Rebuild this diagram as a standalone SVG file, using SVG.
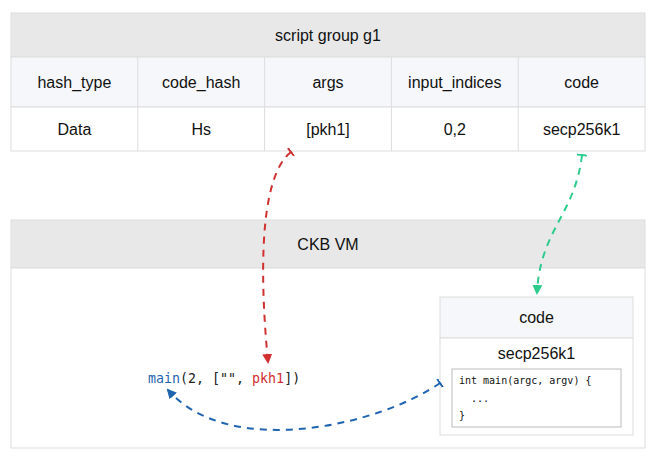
<svg xmlns="http://www.w3.org/2000/svg" width="660" height="463" viewBox="0 0 660 463">
<style>
.t{font-family:"Liberation Sans",Arial,sans-serif;font-size:16px;fill:#111;text-anchor:middle;dominant-baseline:central}
.m{font-family:"DejaVu Sans Mono","Liberation Mono",monospace;font-size:13.3px;dominant-baseline:central}
.c{font-family:"DejaVu Sans Mono","Liberation Mono",monospace;font-size:10px;fill:#111}
.b{stroke:#dddddd;stroke-width:1}
.e{fill:none;stroke-width:2;stroke-dasharray:7,6}
</style>
<defs>
<marker id="ar" markerWidth="10" markerHeight="10" refX="8" refY="5" orient="auto" markerUnits="userSpaceOnUse"><path d="M0,0 L10,5 L0,10 Z" fill="#d03030"/></marker>
<marker id="ag" markerWidth="10" markerHeight="10" refX="8" refY="5" orient="auto" markerUnits="userSpaceOnUse"><path d="M0,0 L10,5 L0,10 Z" fill="#2ecc8c"/></marker>
<marker id="ab" markerWidth="10" markerHeight="10" refX="8" refY="5" orient="auto" markerUnits="userSpaceOnUse"><path d="M0,0 L10,5 L0,10 Z" fill="#1f64b0"/></marker>
<marker id="tr" markerWidth="4" markerHeight="10" refX="1" refY="5" orient="auto" markerUnits="userSpaceOnUse"><path d="M1,0 L1,10" stroke="#d03030" stroke-width="2"/></marker>
<marker id="tg" markerWidth="4" markerHeight="10" refX="1" refY="5" orient="auto" markerUnits="userSpaceOnUse"><path d="M1,0 L1,10" stroke="#2ecc8c" stroke-width="2"/></marker>
<marker id="tb" markerWidth="4" markerHeight="10" refX="1" refY="5" orient="auto" markerUnits="userSpaceOnUse"><path d="M1,0 L1,10" stroke="#1f64b0" stroke-width="2"/></marker>
</defs>
<rect width="660" height="463" fill="#fff"/>
<g id="script-group">
<rect x="11" y="13" width="634" height="44" fill="#e8e8e8" class="b"/>
<rect x="11" y="57" width="634" height="50" fill="#f5f7fa" class="b"/>
<rect x="11" y="107" width="634" height="44" fill="#fff" class="b"/>
<line x1="137.8" y1="57" x2="137.8" y2="151" class="b"/>
<line x1="264.6" y1="57" x2="264.6" y2="151" class="b"/>
<line x1="391.4" y1="57" x2="391.4" y2="151" class="b"/>
<line x1="518.2" y1="57" x2="518.2" y2="151" class="b"/>
<text class="t" x="328" y="35">script group g1</text>
<text class="t" x="74.4" y="82">hash_type</text>
<text class="t" x="201.2" y="82">code_hash</text>
<text class="t" x="328" y="82">args</text>
<text class="t" x="454.8" y="82">input_indices</text>
<text class="t" x="581.6" y="82">code</text>
<text class="t" x="74.4" y="129">Data</text>
<text class="t" x="201.2" y="129">Hs</text>
<text class="t" x="328" y="129">[pkh1]</text>
<text class="t" x="454.8" y="129">0,2</text>
<text class="t" x="581.6" y="129">secp256k1</text>
</g>
<g id="ckb-vm">
<rect x="11" y="220" width="634" height="48" fill="#e8e8e8" class="b"/>
<rect x="11" y="268" width="634" height="180" fill="#fff" class="b"/>
<text class="t" x="328" y="244">CKB VM</text>
<text class="m" x="148" y="378"><tspan fill="#1f64b0">main</tspan><tspan fill="#222">(2, ["", </tspan><tspan fill="#d03030">pkh1</tspan><tspan fill="#222">])</tspan></text>
</g>
<g id="code">
<rect x="440" y="297" width="193" height="41" fill="#f5f7fa" class="b"/>
<rect x="440" y="338" width="193" height="97" fill="#fff" class="b"/>
<text class="t" x="536.5" y="317">code</text>
<text class="t" x="536.5" y="353">secp256k1</text>
<rect x="452" y="369" width="169" height="58" fill="#fff" stroke="#bbbbbb"/>
<text class="c" x="459" y="384">int main(argc, argv) {</text>
<text class="c" x="471" y="402">...</text>
<text class="c" x="459" y="419">}</text>
</g>
<g id="connectors">
<path class="e" stroke="#d03030" d="M291,152 C255,180 262,300 268,362" marker-start="url(#tr)" marker-end="url(#ar)"/>
<path class="e" stroke="#2ecc8c" d="M582,155 C575,215 540,230 537,293" marker-start="url(#tg)" marker-end="url(#ag)"/>
<path class="e" stroke="#1f64b0" d="M440,383 C380,425 230,460 168,390" marker-start="url(#tb)" marker-end="url(#ab)"/>
</g>
</svg>
